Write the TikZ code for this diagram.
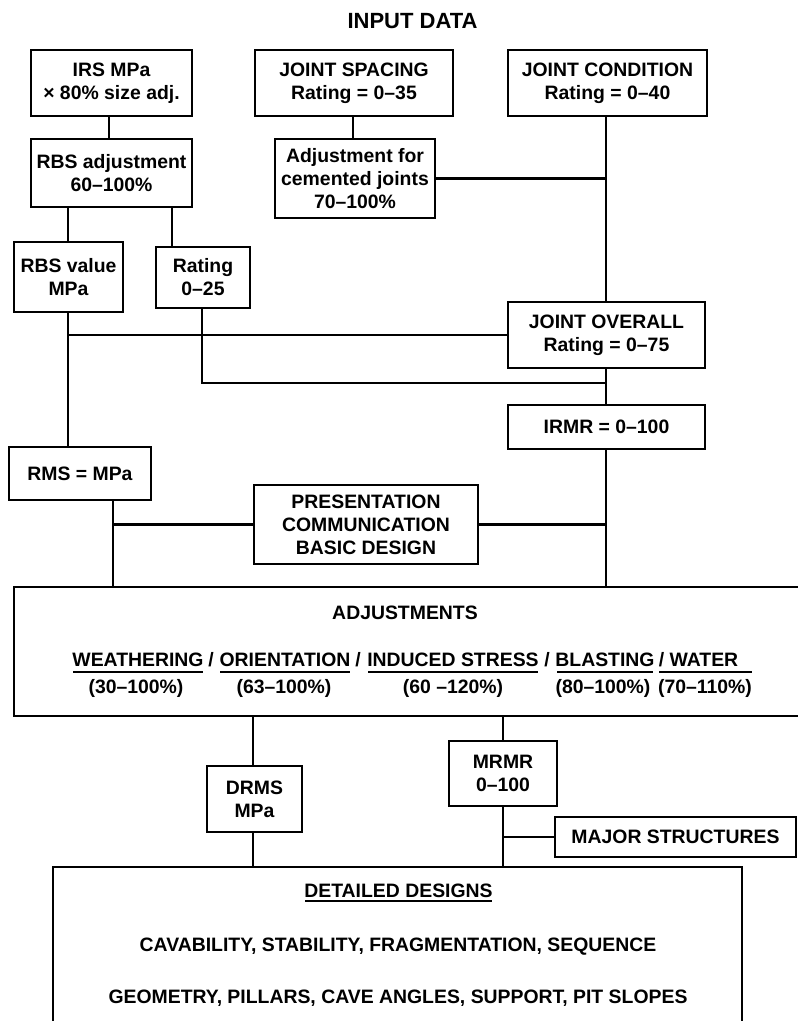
\documentclass[tikz,border=0pt]{standalone}
\usepackage{fontspec}
\setmainfont{Liberation Sans}
\begin{document}
\begin{tikzpicture}[x=1pt,y=-1pt,
  box/.style={draw, line width=2.2pt, align=center, inner sep=0pt,
    font=\bfseries\fontsize{19.4}{23}\selectfont},
  lbl/.style={inner sep=0pt, font=\bfseries\fontsize{19.4}{23}\selectfont},
  link/.style={line width=2.2pt},
  ul/.style={line width=1.5pt}]
\useasboundingbox (0,0) rectangle (798,1021);
\fill[white] (0,0) rectangle (798,1021);
\clip (0,0) rectangle (798,1021);

% title
\node[lbl, font=\bfseries\fontsize{22}{26}\selectfont] (title) at (412.5,21) {INPUT DATA};

% input boxes
\node[box, minimum width=161pt, minimum height=66pt] (irs) at (111.5,83) {IRS MPa\\× 80\% size adj.};
\node[box, minimum width=198pt, minimum height=66pt] (jsp) at (354,83) {JOINT SPACING\\Rating = 0–35};
\node[box, minimum width=199pt, minimum height=66pt] (jcond) at (607.5,83) {JOINT CONDITION\\Rating = 0–40};
\node[box, minimum width=161pt, minimum height=68pt] (rbsadj) at (111.5,173) {RBS adjustment\\60–100\%};
\node[box, minimum width=160pt, minimum height=79pt] (cement) at (355,178.5) {Adjustment for\\cemented joints\\70–100\%};
\node[box, minimum width=109pt, minimum height=70pt] (rbsval) at (68.5,277) {RBS value\\MPa};
\node[box, minimum width=94pt, minimum height=61pt] (rating) at (203,277.5) {Rating\\0–25};
\node[box, minimum width=197pt, minimum height=66pt] (jover) at (606.5,335) {JOINT OVERALL\\Rating = 0–75};
\node[box, minimum width=197pt, minimum height=44pt] (irmr) at (606.5,427) {IRMR = 0–100};
\node[box, minimum width=142pt, minimum height=53pt] (rms) at (80,473.5) {RMS = MPa};
\node[box, minimum width=224pt, minimum height=79pt] (pres) at (366,524.5) {PRESENTATION\\COMMUNICATION\\BASIC DESIGN};

% adjustments panel
\node[box, minimum width=796pt, minimum height=129pt] (adj) at (412,651.5) {};
\node[lbl] (adjt) at (405,613) {ADJUSTMENTS};
\node[lbl, anchor=base] (a1) at (138,666) {WEATHERING};
\node[lbl, anchor=base] (s1) at (211,666) {/};
\node[lbl, anchor=base] (a2) at (285,666) {ORIENTATION};
\node[lbl, anchor=base] (s2) at (358,666) {/};
\node[lbl, anchor=base] (a3) at (453,666) {INDUCED STRESS};
\node[lbl, anchor=base] (s3) at (547,666) {/};
\node[lbl, anchor=base] (a4) at (605,666) {BLASTING};
\node[lbl, anchor=base] (a5) at (698.5,666) {/ WATER};
\draw[ul] (73,672) -- (203,672);
\draw[ul] (220,672) -- (350,672);
\draw[ul] (368,672) -- (538,672);
\draw[ul] (557,672) -- (653,672);
\draw[ul] (659,672) -- (752,672);
\node[lbl, anchor=base] (p1) at (136,693) {(30–100\%)};
\node[lbl, anchor=base] (p2) at (284,693) {(63–100\%)};
\node[lbl, anchor=base] (p3) at (453,693) {(60 –120\%)};
\node[lbl, anchor=base] (p4) at (603,693) {(80–100\%)};
\node[lbl, anchor=base] (p5) at (705,693) {(70–110\%)};

% results
\node[box, minimum width=95pt, minimum height=66pt] (drms) at (254.5,799) {DRMS\\MPa};
\node[box, minimum width=108pt, minimum height=65pt] (mrmr) at (503,773.5) {MRMR\\0–100};
\node[box, minimum width=241pt, minimum height=40pt] (major) at (675.5,837) {MAJOR STRUCTURES};

% detailed designs panel
\node[box, minimum width=689pt, minimum height=183pt] (detail) at (397.5,958.5) {};
\node[lbl, anchor=base] (ddt) at (398.5,897) {DETAILED DESIGNS};
\draw[ul] (305,901) -- (492,901);
\node[lbl, anchor=base] (dd1) at (398,951) {CAVABILITY, STABILITY, FRAGMENTATION, SEQUENCE};
\node[lbl, anchor=base] (dd2) at (398,1003) {GEOMETRY, PILLARS, CAVE ANGLES, SUPPORT, PIT SLOPES};

% connector columns
\coordinate (xa) at (109,0);
\coordinate (xs) at (353,0);
\coordinate (xl) at (68,0);
\coordinate (xr) at (172,0);
\coordinate (xq) at (202,0);
\coordinate (xm) at (113,0);
\coordinate (xd) at (253,0);
\coordinate (xe) at (503,0);
\coordinate (xt) at (606,0);
\coordinate (jn) at (606,383);

\draw[link] (irs.south -| xa) -- (rbsadj.north -| xa);
\draw[link] (jsp.south -| xs) -- (cement.north -| xs);
\draw[link] (rbsadj.south -| xl) -- (rbsval.north -| xl);
\draw[link] (rbsadj.south -| xr) -- (rating.north -| xr);
\draw[link] (jcond.south -| xt) -- (jover.north -| xt);
\draw[link] (cement.east) -- (cement.east -| xt);
\draw[link] (rbsval.south -| xl) -- (rms.north -| xl);
\draw[link] (jover.west) -- (jover.west -| xl);
\draw[link] (rating.south -| xq) |- (jn);
\draw[link] (jover.south -| xt) -- (irmr.north -| xt);
\draw[link] (irmr.south -| xt) -- (adj.north -| xt);
\draw[link] (pres.east) -- (pres.east -| xt);
\draw[link] (rms.south -| xm) -- (adj.north -| xm);
\draw[link] (pres.west) -- (pres.west -| xm);
\draw[link] (adj.south -| xd) -- (drms.north -| xd);
\draw[link] (drms.south -| xd) -- (detail.north -| xd);
\draw[link] (adj.south -| xe) -- (mrmr.north -| xe);
\draw[link] (mrmr.south -| xe) -- (detail.north -| xe);
\draw[link] (major.west) -- (major.west -| xe);
\end{tikzpicture}
\end{document}
